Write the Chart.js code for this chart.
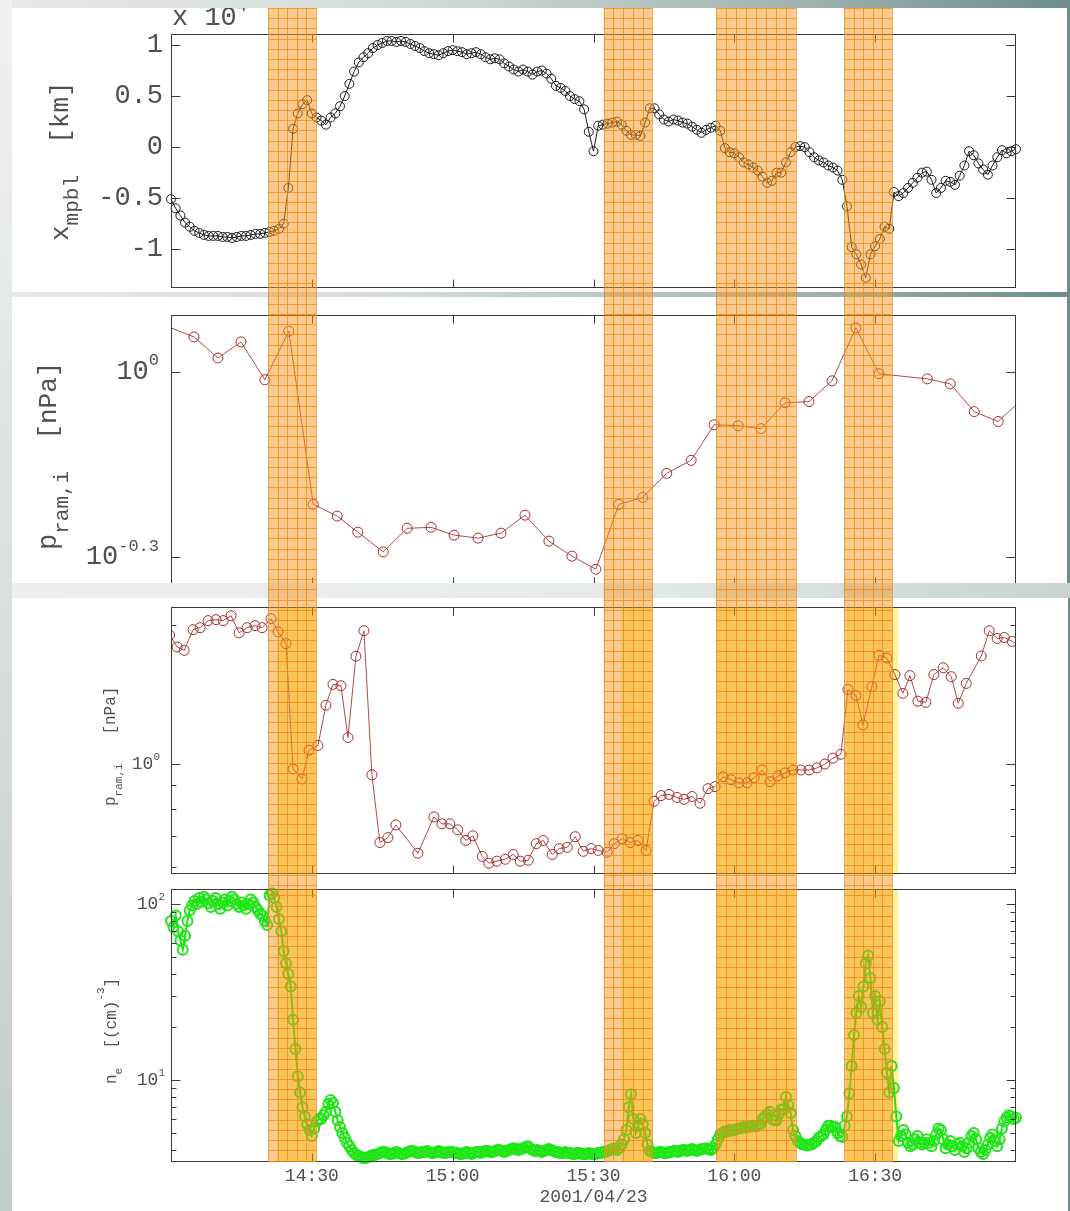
<!DOCTYPE html>
<html>
<head>
<meta charset="utf-8">
<script src="https://cdn.jsdelivr.net/npm/chart.js@4.4.1/dist/chart.umd.min.js"></script>
<style>
  html, body { margin: 0; padding: 0; }
  body {
    width: 1070px; height: 1211px; position: relative; overflow: hidden;
    background: linear-gradient(to right, #e6e9e8 0%, #d2dad8 40%, #9fb3b0 75%, #6d8d8a 100%);
  }
  .strip { position: absolute; left: 0; top: 0; width: 12px; height: 1211px;
    background: linear-gradient(to bottom, #f0f2f1, #c2ccc9); }
  .box { position: absolute; background: #fff; }
  .sep { position: absolute; left: 12px; top: 583px; width: 1058px; height: 15px; z-index: 2;
    background: linear-gradient(to right, #eef0ee 0%, #e6ebe9 55%, #c9d3d0 100%); }
  canvas { position: absolute; left: 0; }
</style>
</head>
<body>
<div class="strip"></div>
<div class="box" style="left:12px;top:8px;width:1055px;height:284px"></div>
<div class="box" style="left:12px;top:297px;width:1055px;height:286px"></div>
<div class="box" style="left:12px;top:598px;width:1056px;height:613px"></div>
<canvas id="pXmpbl" width="1070" height="286" style="top:8px;z-index:1"></canvas>
<canvas id="pRamTop" width="1070" height="298" style="top:294px;z-index:1"></canvas>
<div class="sep"></div>
<canvas id="pRam" width="1070" height="297" style="top:583px;z-index:3"></canvas>
<canvas id="pNe" width="1070" height="331" style="top:880px;z-index:3"></canvas>
<script>
// time axis: minutes after 14:00 UT, 2001/04/23
const X_TICKS = [30, 60, 90, 120, 150];
const X_TICK_LABELS = ["14:30", "15:00", "15:30", "16:00", "16:30"];

// shaded intervals (minutes after 14:00)
const BAND_START = [20.7, 92.2, 116.1, 143.4];
const BAND_END = [30.9, 102.5, 133.1, 153.6];
const YELLOW_START = [22.6, 96.1, 116.1, 143.8];
const YELLOW_END = [30.9, 102.5, 133.1, 154.9];

// panel 1: x_mpbl in units of 10^4 km, one sample per minute from 14:00
const XMPBL_STEP = 1;
const XMPBL = [
  -0.51, -0.60, -0.67, -0.74, -0.78, -0.82, -0.84, -0.86, -0.87, -0.87,
  -0.87, -0.88, -0.88, -0.89, -0.88, -0.87, -0.87, -0.86, -0.85, -0.85,
  -0.84, -0.83, -0.82, -0.80, -0.75, -0.40, 0.18, 0.33, 0.42, 0.46,
  0.33, 0.29, 0.26, 0.22, 0.29, 0.33, 0.40, 0.50, 0.62, 0.74,
  0.83, 0.88, 0.92, 0.97, 1.00, 1.02, 1.04, 1.04, 1.03, 1.04,
  1.03, 1.01, 0.99, 0.97, 0.94, 0.92, 0.91, 0.90, 0.92, 0.94,
  0.95, 0.94, 0.93, 0.91, 0.92, 0.93, 0.91, 0.88, 0.86, 0.87,
  0.86, 0.82, 0.79, 0.76, 0.74, 0.76, 0.74, 0.71, 0.74, 0.75,
  0.72, 0.67, 0.60, 0.58, 0.55, 0.50, 0.47, 0.45, 0.37, 0.15,
  -0.04, 0.21, 0.22, 0.23, 0.24, 0.25, 0.22, 0.16, 0.12, 0.12,
  0.11, 0.24, 0.38, 0.38, 0.32, 0.27, 0.25, 0.27, 0.26, 0.24,
  0.23, 0.20, 0.17, 0.14, 0.17, 0.19, 0.21, 0.16, -0.01, -0.05,
  -0.06, -0.10, -0.15, -0.17, -0.20, -0.23, -0.29, -0.35, -0.33, -0.25,
  -0.25, -0.15, -0.05, 0.00, 0.01, 0.00, -0.05, -0.10, -0.13, -0.15,
  -0.18, -0.20, -0.23, -0.32, -0.58, -0.98, -1.05, -1.15, -1.28, -1.05,
  -0.97, -0.90, -0.78, -0.80, -0.44, -0.48, -0.45, -0.40, -0.35, -0.30,
  -0.25, -0.24, -0.32, -0.45, -0.40, -0.33, -0.34, -0.37, -0.28, -0.18,
  -0.04, -0.08, -0.16, -0.22, -0.27, -0.18, -0.10, -0.03, -0.06, -0.04,
  -0.02
];
const XMPBL_TICKS = [-1, -0.5, 0, 0.5, 1];
const XMPBL_LABELS = ["-1", "-0.5", "0", "0.5", "1"];

// panel 2: ion ram pressure [nPa], 5-min values
const RAM5_T = [-1, 4.9, 10, 14.9, 20, 25.1, 30.3, 35.4, 39.8, 45.2, 50.3, 55.4, 60.3, 65.4,
  70.3, 75.4, 80.5, 85.4, 90.5, 95.4, 100.5, 105.6, 110.8, 115.7, 120.8, 125.7, 130.8,
  135.9, 140.8, 145.9, 150.8, 161.1, 166.0, 171.1, 176.2, 181.2];
const RAM5_V = [1.186, 1.139, 1.053, 1.118, 0.971, 1.164, 0.610, 0.584, 0.550, 0.511, 0.558,
  0.560, 0.544, 0.538, 0.548, 0.586, 0.532, 0.503, 0.479, 0.610, 0.626, 0.685, 0.719,
  0.821, 0.818, 0.809, 0.891, 0.895, 0.967, 1.178, 0.993, 0.974, 0.956, 0.862, 0.831, 0.901];

// panel 3: ion ram pressure [nPa], ~100 s values
const RAM_T = [
  -0.3, 1.3, 2.8, 4.7, 6.2, 7.9, 9.6, 11.1, 12.8, 14.5,
  16.2, 17.9, 19.4, 21.3, 22.8, 24.5, 26.0, 27.9, 29.4, 31.3,
  33.0, 34.5, 36.2, 37.7, 39.4, 41.1, 42.8, 44.5, 46.2, 47.9,
  52.6, 56.0, 57.7, 59.4, 61.1, 62.8, 64.3, 66.3, 67.7, 69.4,
  71.2, 72.9, 74.4, 76.1, 77.8, 79.3, 81.2, 82.7, 84.4, 86.1,
  87.8, 89.5, 91.0, 92.9, 94.4, 96.1, 97.8, 99.5, 101.2, 102.9,
  104.4, 106.1, 107.8, 109.3, 111.0, 112.7, 114.4, 115.9, 117.6, 119.3,
  121.0, 122.7, 124.2, 125.9, 127.6, 129.3, 130.8, 132.5, 134.2, 135.9,
  137.6, 139.3, 141.0, 142.7, 144.2, 145.9, 147.4, 149.3, 150.8, 152.5,
  154.2, 155.9, 157.4, 159.1, 160.8, 162.5, 164.5, 166.2, 167.7, 169.4,
  172.6, 174.3, 176.0, 177.5, 179.2, 180.9
];
const RAM_V = [
  1.90, 1.79, 1.76, 1.95, 1.97, 2.04, 2.05, 2.04, 2.09, 1.92,
  1.97, 1.99, 1.97, 2.06, 1.93, 1.82, 0.976, 0.929, 1.071, 1.097,
  1.34, 1.486, 1.476, 1.141, 1.71, 1.94, 0.948, 0.677, 0.694, 0.739,
  0.642, 0.769, 0.743, 0.743, 0.721, 0.684, 0.700, 0.632, 0.611, 0.617,
  0.623, 0.638, 0.617, 0.620, 0.673, 0.684, 0.638, 0.657, 0.661, 0.697,
  0.648, 0.657, 0.651, 0.645, 0.673, 0.690, 0.677, 0.684, 0.651, 0.831,
  0.855, 0.860, 0.847, 0.839, 0.851, 0.823, 0.885, 0.894, 0.939, 0.925,
  0.911, 0.911, 0.934, 0.971, 0.916, 0.943, 0.957, 0.971, 0.971, 0.971,
  0.981, 1.0, 1.030, 1.050, 1.449, 1.406, 1.215, 1.470, 1.718, 1.694,
  1.56, 1.421, 1.552, 1.367, 1.359, 1.56, 1.614, 1.544, 1.353, 1.493,
  1.711, 1.94, 1.867, 1.876, 1.84, 1.80
];

// panel 4: electron density [cm^-3], one sample per 30 s from 14:00
const NE_STEP = 0.5;
const NE = [
  80, 74, 86, 70, 62, 55, 66, 80, 92, 98, 104, 100, 108, 103, 110, 106, 101, 96, 104, 108,
  100, 94, 102, 106, 98, 104, 110, 106, 100, 96, 102, 98, 94, 100, 106, 102, 96, 92, 88, 86,
  80, 76, 112, 115, 108, 96, 82, 70, 54, 46, 40, 34, 22, 15, 10.5, 8.5, 7.0, 6.2, 5.6, 5.2,
  4.8, 5.3, 5.8, 6.0, 6.0, 6.3, 6.6, 7.3, 7.7, 7.4, 6.6, 5.9, 5.4, 5.0, 4.7, 4.4, 4.2, 4.0, 3.85, 3.75,
  3.7, 3.65, 3.6, 3.6, 3.65, 3.7, 3.75, 3.75, 3.8, 3.85, 3.9, 3.9, 3.85, 3.8, 3.8, 3.85, 3.9, 3.85, 3.8, 3.8,
  3.85, 3.9, 3.95, 3.95, 3.9, 3.85, 3.85, 3.9, 3.9, 3.95, 3.9, 3.85, 3.85, 3.9, 3.95, 3.9, 3.85, 3.85, 3.9, 3.9,
  3.9, 3.85, 3.85, 3.8, 3.8, 3.85, 3.9, 3.85, 3.8, 3.85, 3.9, 3.9, 3.85, 3.9, 3.95, 3.95, 3.9, 3.9, 3.95, 4.0,
  4.0, 3.95, 3.9, 3.95, 4.0, 4.05, 4.1, 4.05, 4.0, 4.05, 4.1, 4.15, 4.2, 4.1, 4.0, 3.95, 4.0, 3.95, 3.9, 3.95,
  4.0, 4.05, 4.0, 3.95, 3.9, 3.9, 3.85, 3.85, 3.9, 3.85, 3.85, 3.8, 3.8, 3.85, 3.85, 3.8, 3.8, 3.8, 3.85, 3.8,
  3.8, 3.8, 3.85, 3.85, 3.9, 3.9, 3.95, 4.0, 4.05, 4.1, 4.0, 4.1, 4.3, 4.6, 5.2, 7.0, 8.3, 6.0, 5.0, 5.5,
  6.0, 5.6, 5.0, 4.3, 3.95, 3.9, 3.85, 3.85, 3.9, 3.9, 3.85, 3.85, 3.9, 3.9, 3.95, 3.95, 3.9, 3.95, 4.0, 4.0,
  3.95, 4.0, 4.05, 4.0, 3.95, 4.0, 4.05, 4.05, 4.1, 4.05, 4.0, 4.1, 4.3, 4.6, 4.9, 5.0, 5.1, 5.1, 5.2, 5.15,
  5.2, 5.25, 5.3, 5.35, 5.4, 5.35, 5.4, 5.45, 5.5, 5.45, 5.5, 5.6, 6.0, 6.2, 6.4, 6.6, 6.0, 5.9, 5.9, 6.4,
  6.8, 6.8, 8.0, 7.2, 6.5, 5.2, 4.8, 4.5, 4.4, 4.3, 4.3, 4.25, 4.3, 4.3, 4.4, 4.5, 4.7, 4.8, 4.9, 5.2,
  5.5, 5.5, 5.4, 5.4, 5.0, 4.8, 4.75, 5.5, 6.2, 8.4, 12, 18, 24, 30, 26, 34, 46, 51, 38, 24,
  30, 22, 28, 20, 15, 11, 8.5, 12, 9, 6.2, 4.5, 4.8, 5.2, 4.9, 4.4, 4.2, 4.3, 4.6, 4.8, 4.4,
  4.3, 4.4, 4.6, 4.4, 4.2, 4.5, 4.9, 5.3, 5.2, 4.6, 4.1, 4.3, 4.5, 4.2, 4.0, 4.3, 4.4, 4.2, 3.9, 4.1,
  4.4, 4.8, 5.0, 4.6, 4.1, 3.9, 3.8, 4.0, 4.3, 4.7, 4.9, 4.5, 4.2, 4.6, 5.3, 5.8, 6.1, 6.3, 6.2, 6.0, 6.1
];

const MONO = '"Liberation Mono", "Courier New", monospace';
const INK = "#505050";

function pairs(times, values) {
  return values.map((v, i) => ({ x: times[i], y: v }));
}

function regular(step, values) {
  return values.map((v, i) => ({ x: i * step, y: v }));
}

function drawParts(ctx, parts) {
  let cx = 0;
  parts.forEach(([txt, size, dy]) => {
    ctx.font = `${size}px ${MONO}`;
    ctx.fillText(txt, cx, dy);
    cx += ctx.measureText(txt).width;
  });
}

const panelDeco = {
  id: "panelDeco",
  beforeDatasetsDraw(chart, args, opts) {
    if (!opts.yellow) return;
    const { ctx, chartArea: a, scales: { x } } = chart;
    ctx.save();
    ctx.fillStyle = "#fff39a";
    YELLOW_START.forEach((s, i) => {
      const x0 = x.getPixelForValue(s);
      const x1 = x.getPixelForValue(YELLOW_END[i]);
      ctx.fillRect(x0, a.top, x1 - x0, a.bottom - a.top);
    });
    ctx.restore();
  },
  afterDatasetsDraw(chart, args, opts) {
    const { ctx, chartArea: a, scales: { x, y } } = chart;
    const pageTop = opts.pageTop;
    ctx.save();

    // frame and inward ticks
    ctx.strokeStyle = "#3a3a3a";
    ctx.lineWidth = 1;
    const L = Math.round(a.left) + 0.5, R = Math.round(a.right) - 0.5;
    const T = Math.round(a.top) + 0.5, B = Math.round(a.bottom) - 0.5;
    ctx.strokeRect(L, T, R - L, B - T);
    ctx.beginPath();
    X_TICKS.forEach((v) => {
      const px = Math.round(x.getPixelForValue(v)) + 0.5;
      ctx.moveTo(px, T); ctx.lineTo(px, T + 8);
      ctx.moveTo(px, B); ctx.lineTo(px, B - 8);
    });
    const yTick = (v, len) => {
      const py = Math.round(y.getPixelForValue(v)) + 0.5;
      ctx.moveTo(L, py); ctx.lineTo(L + len, py);
      ctx.moveTo(R, py); ctx.lineTo(R - len, py);
    };
    opts.yMajor.forEach((v) => yTick(v, 9));
    (opts.yMinor || []).forEach((v) => yTick(v, 5));
    ctx.stroke();

    // y tick labels (with exponents)
    ctx.fillStyle = INK;
    ctx.textBaseline = "middle";
    ctx.textAlign = "right";
    opts.yLabels.forEach((l) => {
      const py = y.getPixelForValue(l.v);
      let right = a.left - opts.gap;
      if (l.sup) {
        ctx.font = `${opts.supSize}px ${MONO}`;
        ctx.fillText(l.sup, right, py - opts.supDy);
        right -= ctx.measureText(l.sup).width;
      }
      ctx.font = `${opts.labelSize}px ${MONO}`;
      ctx.fillText(l.base, right, py);
    });

    // y title, rotated
    ctx.textAlign = "left";
    ctx.textBaseline = "alphabetic";
    ctx.save();
    ctx.translate(opts.title.x, opts.title.y - pageTop);
    ctx.rotate(-Math.PI / 2);
    drawParts(ctx, opts.title.parts);
    ctx.restore();

    if (opts.note) {
      ctx.save();
      ctx.translate(opts.note.x, opts.note.y - pageTop);
      drawParts(ctx, opts.note.parts);
      ctx.restore();
    }

    // shaded intervals with their grid texture
    const yBot = opts.bandToArea ? a.bottom : chart.height;
    BAND_START.forEach((s, i) => {
      const x0 = x.getPixelForValue(s);
      const x1 = x.getPixelForValue(BAND_END[i]);
      ctx.fillStyle = "rgba(245,150,30,0.5)";
      ctx.fillRect(x0, 0, x1 - x0, yBot);
      ctx.strokeStyle = "rgba(240,132,8,0.7)";
      ctx.beginPath();
      const n = Math.max(1, Math.round((x1 - x0) / 9.8));
      const step = (x1 - x0) / n;
      for (let k = 0; k <= n; k++) {
        const px = Math.round(x0 + k * step) + 0.5;
        ctx.moveTo(px, 0); ctx.lineTo(px, yBot);
      }
      for (let k = Math.ceil((pageTop - 8) / 10.2); ; k++) {
        const py = Math.round(8 + k * 10.2 - pageTop) + 0.5;
        if (py > yBot) break;
        ctx.moveTo(x0, py); ctx.lineTo(x1, py);
      }
      ctx.stroke();
    });
    ctx.restore();
  }
};

function panel(canvasId, cfg) {
  const dataset = {
    data: cfg.points,
    borderColor: cfg.line,
    borderWidth: cfg.lineWidth || 1,
    pointRadius: cfg.radius,
    pointHoverRadius: cfg.radius,
    pointBorderColor: cfg.mark,
    pointBorderWidth: cfg.markWidth,
    pointBackgroundColor: "rgba(0,0,0,0)",
    tension: 0
  };
  if (cfg.noClip) dataset.clip = false;

  const xLabels = !!cfg.xLabels;
  return new Chart(document.getElementById(canvasId), {
    type: "line",
    data: { datasets: [dataset] },
    options: {
      responsive: false,
      animation: false,
      devicePixelRatio: 1,
      events: [],
      layout: { padding: { top: cfg.padTop, bottom: cfg.padBottom, left: 0, right: 54 } },
      plugins: {
        legend: { display: false },
        tooltip: { enabled: false },
        panelDeco: cfg.deco
      },
      scales: {
        x: {
          type: "linear",
          min: 0,
          max: 180,
          grid: { display: false, drawTicks: false },
          border: { display: false },
          ticks: xLabels
            ? {
                color: INK,
                padding: 3,
                autoSkip: false,
                maxRotation: 0,
                font: { family: MONO, size: 18 },
                callback: (value, index) => X_TICK_LABELS[index]
              }
            : { display: false },
          title: xLabels
            ? {
                display: true,
                text: "2001/04/23",
                color: INK,
                font: { family: MONO, size: 18 },
                padding: { top: 0, bottom: 3 }
              }
            : { display: false },
          afterBuildTicks: (scale) => {
            scale.ticks = X_TICKS.map((v) => ({ value: v }));
          },
          afterFit: (scale) => {
            scale.height = cfg.xHeight;
          }
        },
        y: {
          type: cfg.yType,
          min: cfg.yMin,
          max: cfg.yMax,
          grid: { display: false, drawTicks: false },
          border: { display: false },
          ticks: { display: false },
          afterFit: (scale) => {
            scale.width = 171;
          }
        }
      }
    },
    plugins: [panelDeco]
  });
}

panel("pXmpbl", {
  points: regular(XMPBL_STEP, XMPBL),
  line: "#1a1a1a", mark: "#1a1a1a", markWidth: 1, radius: 4.5, noClip: true,
  padTop: 26, padBottom: 6, xHeight: 0,
  yType: "linear", yMin: -1.38, yMax: 1.108,
  deco: {
    pageTop: 8,
    yMajor: XMPBL_TICKS,
    yLabels: XMPBL_TICKS.map((v, i) => ({ v, base: XMPBL_LABELS[i] })),
    labelSize: 27, supSize: 17, supDy: 11, gap: 8,
    title: { x: 68, y: 241, parts: [["x", 26, 0], ["mpbl", 21, 10], ["  [km]", 26, 0]] },
    note: { x: 172, y: 25, parts: [["x 10", 27, 0], ["4", 17, -14]] }
  }
});

panel("pRamTop", {
  points: pairs(RAM5_T, RAM5_V),
  line: "#b04a48", mark: "#a82c2c", markWidth: 1, radius: 5,
  padTop: 21, padBottom: 6, xHeight: 0,
  yType: "logarithmic", yMin: 0.452, yMax: 1.236,
  deco: {
    pageTop: 294,
    yMajor: [0.5012, 1],
    yLabels: [{ v: 1, base: "10", sup: "0" }, { v: 0.5012, base: "10", sup: "-0.3" }],
    labelSize: 27, supSize: 17, supDy: 11, gap: 12,
    title: { x: 56, y: 550, parts: [["p", 27, 0], ["ram,i", 21, 12], ["  [nPa]", 26, 0]] }
  }
});

panel("pRam", {
  points: pairs(RAM_T, RAM_V),
  line: "#b04a48", mark: "#a82c2c", markWidth: 1, radius: 5,
  padTop: 24, padBottom: 1, xHeight: 0,
  yType: "logarithmic", yMin: 0.579, yMax: 2.183,
  deco: {
    pageTop: 583, yellow: true,
    yMajor: [1],
    yMinor: [0.6, 0.7, 0.8, 0.9, 2],
    yLabels: [{ v: 1, base: "10", sup: "0" }],
    labelSize: 18, supSize: 11, supDy: 7, gap: 11,
    title: { x: 115, y: 806, parts: [["p", 16, 0], ["ram,i", 11, 7], ["   [nPa]", 16, 0]] }
  }
});

panel("pNe", {
  points: regular(NE_STEP, NE),
  line: "#1fe016", mark: "#1fe616", markWidth: 2, lineWidth: 2, radius: 5, noClip: true,
  padTop: 9, padBottom: 0, xHeight: 49, xLabels: true,
  yType: "logarithmic", yMin: 3.42, yMax: 121.6,
  deco: {
    pageTop: 880, yellow: true, bandToArea: true,
    yMajor: [10, 100],
    yMinor: [4, 5, 6, 7, 8, 9, 20, 30, 40, 50, 60, 70, 80, 90],
    yLabels: [{ v: 100, base: "10", sup: "2" }, { v: 10, base: "10", sup: "1" }],
    labelSize: 18, supSize: 11, supDy: 7, gap: 6,
    title: { x: 116, y: 1084, parts: [["n", 16, 0], ["e", 11, 6], ["  [(cm)", 16, 0], ["-3", 11, -12], ["]", 16, 0]] }
  }
});
</script>
</body>
</html>
